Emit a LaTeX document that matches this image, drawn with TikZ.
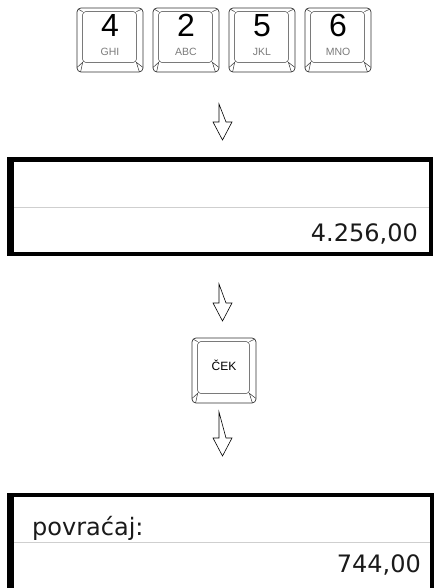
\documentclass[tikz,border=0pt]{standalone}
\usepackage{fontspec}
\setmainfont{Liberation Sans}
\newfontfamily\lcdfont{DejaVu Sans}
\usetikzlibrary{calc}
\definecolor{keyline}{HTML}{333333}
\definecolor{keygray}{HTML}{7A7A7A}
\definecolor{lcdink}{HTML}{1A1A1A}
\definecolor{lcdrule}{HTML}{CFCFCF}

\tikzset{
  keycap/.style={draw=keyline, line width=0.7pt, rounded corners=4pt,
    minimum width=66pt, minimum height=64pt, inner sep=0pt},
  keyface/.style={draw=keyline, line width=0.5pt, rounded corners=3pt},
  bevel/.style={draw=keyline, line width=0.5pt},
  digit/.style={font=\fontsize{32}{32}\selectfont, inner sep=0pt},
  letters/.style={font=\fontsize{10.5}{11}\selectfont, text=keygray, inner sep=0pt},
  keylabel/.style={font=\fontsize{12}{12}\selectfont, inner sep=0pt},
  lcdtext/.style={font=\lcdfont\fontsize{24}{24}\selectfont, text=lcdink, inner sep=0pt},
  divider/.style={draw=lcdrule, line width=0.8pt},
  arrowline/.style={draw=black, line width=0.6pt, line join=miter},
  pics/hollowdown/.style={code={
    \draw[arrowline] (-3.5,0) -- (-3.5,#1) -- (-9.5,#1) -- (0,#1+18)
      -- (9.5,#1) -- (3.5,#1) -- cycle;}}
}

\begin{document}
\begin{tikzpicture}[x=1pt, y=-1pt]
  \useasboundingbox (0,0) rectangle (436,588);

  % number keys
  \foreach \d/\l/\x in {4/GHI/110, 2/ABC/186, 5/JKL/262, 6/MNO/338} {
    \node[keycap] (k\d) at (\x,40) {};
    \node[digit] (d\d) at ($(k\d.north)+(0,18)$) {\d};
    \node[letters] (l\d) at ($(k\d.north)+(0,44.5)$) {\l};
  }

  % cek key
  \node[keycap, minimum width=64pt, minimum height=65pt] (kcek) at (224,370.5) {};
  \node[keylabel] (tcek) at ($(kcek.north)+(0,28)$) {ČEK};

  % key faces and bevels
  \foreach \k in {k4,k2,k5,k6,kcek} {
    \draw[keyface] ($(\k.north west)+(6,4)$) rectangle ($(\k.south east)+(-7,-10)$);
    \draw[bevel] ($(\k.north west)+(6,4)$) -- ($(\k.north west)+(1.5,1.5)$);
    \draw[bevel] ($(\k.north east)+(-7,4)$) -- ($(\k.north east)+(-1.5,1.5)$);
    \draw[bevel] ($(\k.south west)+(0.5,-5)$) -- ($(\k.south west)+(6,-10)$)
      -- ($(\k.south west)+(4,-0.5)$);
    \draw[bevel] ($(\k.south east)+(-0.5,-5)$) -- ($(\k.south east)+(-7,-10)$)
      -- ($(\k.south east)+(-4,-0.5)$);
  }

  % arrows
  \pic (a1) at (222.5,104) {hollowdown=18};
  \pic (a2) at (222.5,284) {hollowdown=19};
  \pic (a3) at (222.5,412) {hollowdown=26};

  % first display
  \fill[black] (7,157) rectangle (433,256);
  \fill[white] (14,162) rectangle (429,252);
  \draw[divider] (14,207) -- (429,207);
  \node[lcdtext, anchor=base east] (amount) at (418,241) {4.256,00};

  % second display
  \fill[black] (7,493) rectangle (434,588);
  \fill[white] (14,497) rectangle (430,588);
  \draw[divider] (14,542) -- (430,542);
  \node[lcdtext, anchor=base west] (change) at (32,535) {povraćaj:};
  \node[lcdtext, anchor=base east] (rest) at (421,572) {744,00};
\end{tikzpicture}
\end{document}
